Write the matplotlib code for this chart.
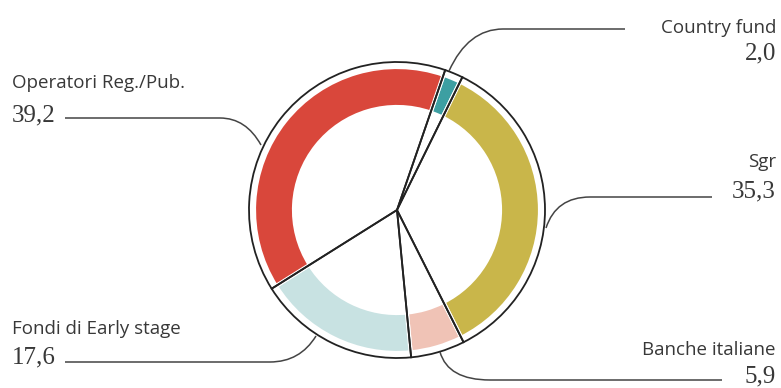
import numpy as np
import matplotlib
matplotlib.use('Agg')
import matplotlib.pyplot as plt
from matplotlib.path import Path
from matplotlib.patches import PathPatch

# data (clockwise from the top)
labels = ['Country fund', 'Sgr', 'Banche italiane', 'Fondi di Early stage', 'Operatori Reg./Pub.']
values = [2.0, 35.3, 5.9, 17.6, 39.2]
value_text = ['2,0', '35,3', '5,9', '17,6', '39,2']
colors = ['#3d9fa2', '#c9b64a', '#f0c3b6', '#c8e2e2', '#d9473b']

W, H = 781, 388
fig = plt.figure(figsize=(W / 100, H / 100), dpi=100)
ax = fig.add_axes([0, 0, 1, 1])

cx, cy = 397, H - 210
R = 148
start = 90 - 19

# coloured ring
ax.pie(values, radius=R - 5, center=(cx, cy), colors=colors, startangle=start,
       counterclock=False, frame=True,
       wedgeprops=dict(width=40, edgecolor='white', linewidth=3))
# black outline wedges on top
ax.pie(values, radius=R, center=(cx, cy), colors=['none'] * len(values),
       startangle=start, counterclock=False, frame=True,
       wedgeprops=dict(edgecolor='#222222', linewidth=1.3, fill=False))
ax.set_xlim(0, W)
ax.set_ylim(0, H)
ax.set_aspect('equal')
ax.axis('off')


def leader(p0, ctrl, p1, p2):
    # curve from the circle then straight line to the label (pixel coords, y down)
    verts = [(p0[0], H - p0[1]), (ctrl[0], H - ctrl[1]), (p1[0], H - p1[1]), (p2[0], H - p2[1])]
    codes = [Path.MOVETO, Path.CURVE3, Path.CURVE3, Path.LINETO]
    ax.add_patch(PathPatch(Path(verts, codes), fill=False, edgecolor='#444444', lw=1.1))


leader((449, 71), (468, 29), (503, 29), (625, 29))
leader((546, 228), (556, 197), (590, 197), (712, 197))
leader((440, 352), (448, 380), (490, 380), (722, 380))
leader((316, 336), (300, 362), (270, 362), (65, 362))
leader((261, 145), (246, 118), (220, 118), (65, 118))

sans = 'Open Sans'
serif = 'Liberation Serif'
tc = '#383838'
lab_pos = [(776, 28, 'right'), (776, 162, 'right'), (776, 350, 'right'),
           (12, 329, 'left'), (12, 83, 'left')]
num_pos = [(776, 53, 'right'), (776, 191, 'right'), (776, 376, 'right'),
           (12, 357, 'left'), (12, 115, 'left')]
for i in range(len(labels)):
    x, y, ha = lab_pos[i]
    ax.text(x, H - y, labels[i], ha=ha, va='center', fontsize=13.5,
            family=sans, color=tc)
    x, y, ha = num_pos[i]
    ax.text(x, H - y, value_text[i], ha=ha, va='center', fontsize=18,
            family=serif, color=tc)

fig.savefig('out.png', dpi=100)
